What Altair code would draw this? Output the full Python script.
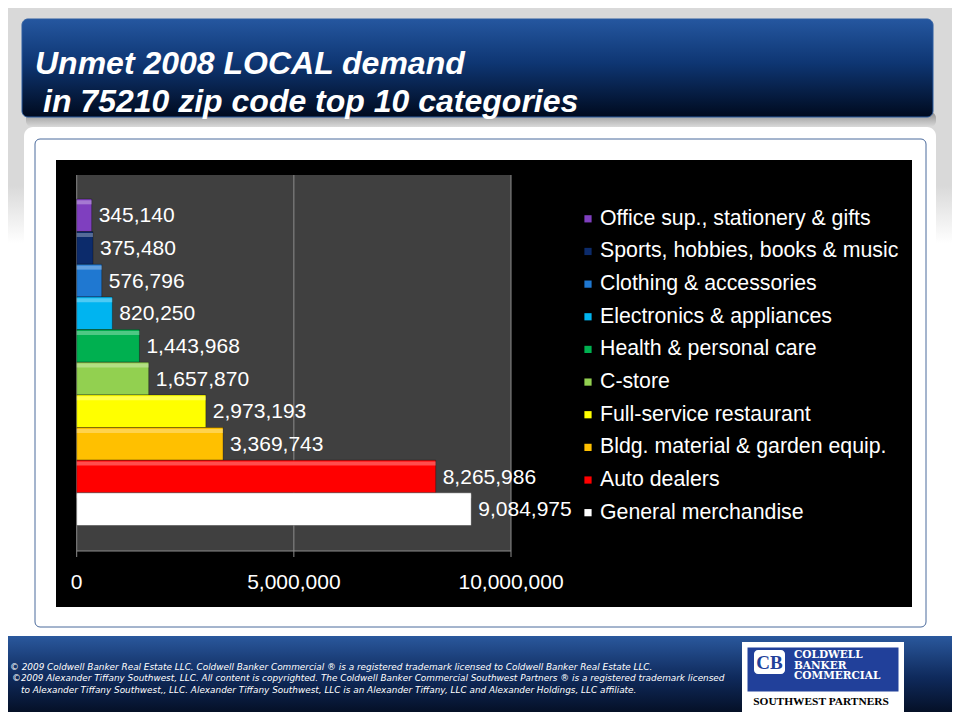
import altair as alt
import pandas as pd

# ---------------- data ----------------
categories = [
    "Office sup., stationery & gifts",
    "Sports, hobbies, books & music",
    "Clothing & accessories",
    "Electronics & appliances",
    "Health & personal care",
    "C-store",
    "Full-service restaurant",
    "Bldg. material & garden equip.",
    "Auto dealers",
    "General merchandise",
]
values = [345140, 375480, 576796, 820250, 1443968, 1657870, 2973193, 3369743, 8265986, 9084975]
bar_colors = ["#7f3fbf", "#0c2b6b", "#1f78d1", "#00b4f0", "#00b050",
              "#92d050", "#ffff00", "#ffc000", "#ff0000", "#ffffff"]
x_ticks = [0, 5000000, 10000000]

title_lines = ["Unmet 2008 LOCAL demand", "in 75210 zip code top 10 categories"]
footer_lines = [
    "\u00a9  2009 Coldwell Banker Real Estate LLC. Coldwell Banker Commercial \u00ae is a registered trademark licensed to Coldwell Banker Real Estate LLC.",
    "\u00a92009 Alexander Tiffany Southwest, LLC. All content is copyrighted. The Coldwell Banker Commercial Southwest Partners \u00ae is a registered trademark licensed",
    "to Alexander Tiffany Southwest,, LLC.  Alexander Tiffany Southwest, LLC is an Alexander Tiffany, LLC and Alexander Holdings, LLC affiliate.",
]
logo_lines = ["COLDWELL", "BANKER", "COMMERCIAL"]
logo_sub = "SOUTHWEST PARTNERS"

df = pd.DataFrame({"category": categories, "value": values})
ticks_df = pd.DataFrame({"tick": x_ticks})

# page coordinates -> chart coordinates (page has an 8px margin)
O = 8
def P(v):
    return v - O

W, H = 960 - 2 * O, 720 - 2 * O
FONT = "Liberation Sans"
dummy = alt.Data(values=[{}])


def grad(stops, vertical=True):
    return alt.LinearGradient(
        gradient="linear",
        stops=[alt.GradientStop(color=c, offset=o) for o, c in stops],
        x1=0, x2=0 if vertical else 1, y1=0, y2=1 if vertical else 0,
    )


def rect(x, x2, y, y2, **kw):
    return alt.Chart(dummy).mark_rect(**kw).encode(
        x=alt.value(P(x)), x2=alt.value(P(x2)), y=alt.value(P(y)), y2=alt.value(P(y2))
    )


def label(txt, x, y, **kw):
    return alt.Chart(dummy).mark_text(text=txt, **kw).encode(
        x=alt.value(P(x)), y=alt.value(P(y))
    )


# ---------------- decoration ----------------
bg = rect(0, 968, 0, 640, color=grad([(0, "#d9d9d9"), (0.29, "#d9d9d9"), (0.38, "#ffffff"), (1, "#ffffff")]))
title_shadow = rect(26, 936, 112, 127, cornerRadius=6,
                    color=grad([(0, "#8c8c8c"), (0.5, "#b5b5b5"), (1, "#d9d9d9")]))
title_box = rect(22, 933, 19, 117, cornerRadius=6, stroke="#2d5da0", strokeWidth=1,
                 color=grad([(0, "#2557a0"), (0.45, "#0e3673"), (1, "#000a1e")]))
panel = rect(24, 936, 127, 660, cornerRadius=9, color="#ffffff")
panel_border = rect(35, 926, 139, 627, cornerRadius=5, fill="transparent",
                    stroke="#4a6a9c", strokeWidth=1)
black_area = rect(56, 912, 160, 607, color="#000000")
plot_area = rect(77, 511, 175, 551, color="#404040")

footer = rect(0, 968, 636, 728, color=grad([(0, "#2a589d"), (0.45, "#0f2a5c"), (1, "#00040e")]))
logo_white = rect(742, 904, 642, 713, color="#ffffff")
logo_blue = rect(747, 899, 647, 692, color="#21409a", stroke="#ffffff", strokeWidth=1)
emblem = rect(754, 785, 650, 674, cornerRadius=4, color="#ffffff")

texts = []
texts.append(label(title_lines[0], 35, 74, font=FONT, fontSize=32, fontWeight="bold",
                   fontStyle="italic", color="#ffffff", align="left", baseline="alphabetic"))
texts.append(label(title_lines[1], 43, 112, font=FONT, fontSize=32, fontWeight="bold",
                   fontStyle="italic", color="#ffffff", align="left", baseline="alphabetic"))
for i, (ln, fx) in enumerate(zip(footer_lines, [10, 12, 21])):
    texts.append(label(ln, fx, 666.5 + i * 11.6, font="DejaVu Sans", fontSize=8.9, fontStyle="italic",
                       color="#ffffff", align="left", baseline="middle"))
texts.append(label("CB", 769.5, 662.5, font="Liberation Serif", fontSize=19, fontWeight="bold",
                   color="#21409a", align="center", baseline="middle"))
for i, ln in enumerate(logo_lines):
    texts.append(label(ln, 794, 658 + i * 10.5, font="DejaVu Serif", fontSize=10.5,
                       fontWeight="bold", color="#ffffff", align="left", baseline="alphabetic"))
texts.append(label(logo_sub, 821, 702, font="Liberation Serif", fontSize=11.4,
                   fontWeight="bold", color="#000000", align="center", baseline="middle"))

# ---------------- chart ----------------
xs = alt.Scale(domain=[0, 10000000], range=[P(76.7), P(511)], nice=False, zero=True)
ys = alt.Scale(domain=categories, range=[P(199), P(525.5)], paddingInner=0, paddingOuter=0)
cs = alt.Scale(domain=categories, range=bar_colors)

X = alt.X("value:Q", scale=xs, axis=None)
Y = alt.Y("category:N", scale=ys, axis=None, sort=categories)
C = alt.Color("category:N", scale=cs, legend=None, sort=categories)

grid = alt.Chart(ticks_df).mark_rule(color="#8c8c8c", strokeWidth=1).encode(
    x=alt.X("tick:Q", scale=xs, axis=None), y=alt.value(P(175)), y2=alt.value(P(557))
)
domain_line = alt.Chart(dummy).mark_rule(color="#8c8c8c", strokeWidth=1).encode(
    x=alt.value(P(76.7)), x2=alt.value(P(511)), y=alt.value(P(551))
)
tick_labels = alt.Chart(ticks_df).mark_text(
    font=FONT, fontSize=21, color="#ffffff", align="center", baseline="middle"
).encode(
    x=alt.X("tick:Q", scale=xs, axis=None), y=alt.value(P(583)),
    text=alt.Text("tick:Q", format=",")
)

bars = alt.Chart(df).mark_bar(stroke="#000000", strokeOpacity=0.3, strokeWidth=1).encode(
    x=X, y=Y, color=C
)
highlight = alt.Chart(df).mark_bar(color="#ffffff", opacity=0.3, size=4, yOffset=-13).encode(
    x=X, y=Y
)
bar_labels = alt.Chart(df).mark_text(
    font=FONT, fontSize=21, color="#ffffff", align="left", baseline="middle", dx=7, dy=1
).encode(x=X, y=Y, text=alt.Text("value:Q", format=","))

legend_sq = alt.Chart(df).mark_square(size=52, opacity=1, yOffset=3.5).encode(
    x=alt.value(P(588)), y=Y, color=C
)
legend_txt = alt.Chart(df).mark_text(
    font=FONT, fontSize=21.3, color="#ffffff", align="left", baseline="middle", dy=3.5
).encode(x=alt.value(P(600)), y=Y, text="category:N")

chart = alt.layer(
    bg, title_shadow, title_box, panel, panel_border, black_area, plot_area,
    grid, domain_line, bars, highlight, bar_labels, tick_labels, legend_sq, legend_txt,
    footer, logo_white, logo_blue, emblem, *texts
).properties(
    width=W, height=H, padding=0, autosize=alt.AutoSizeParams(type="none")
).configure_view(stroke="transparent").resolve_scale(color="shared")

chart.save("out.html", embed_options={"renderer": "svg", "actions": False})
